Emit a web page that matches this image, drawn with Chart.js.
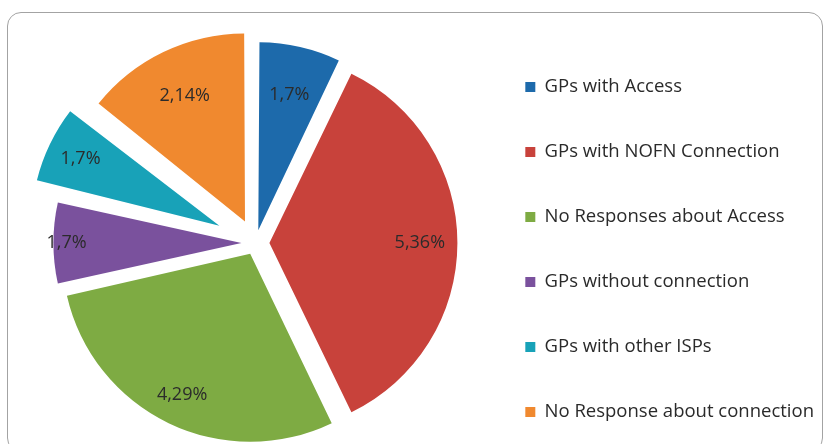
<!DOCTYPE html>
<html>
<head>
<meta charset="utf-8">
<script src="https://cdn.jsdelivr.net/npm/chart.js@4.4.1/dist/chart.umd.min.js"></script>
<style>
  html, body { margin: 0; padding: 0; background: #fff; }
  #wrap { position: relative; width: 826px; height: 444px; overflow: hidden; }
  #frame { position: absolute; left: 7px; top: 12px; width: 816px; height: 440px;
           border: 1.5px solid #a3a3a3; border-radius: 14px; box-sizing: border-box; }
  #wrap canvas { position: absolute; left: 0; top: 0; }
</style>
</head>
<body>
<div id="wrap">
  <div id="frame"></div>
  <!-- canvas a bit taller than the window so the legend fits in one column -->
  <canvas id="pie" width="826" height="476"></canvas>
</div>
<script>
// ---------- dados ----------
const categories = [
  'GPs with Access',
  'GPs with NOFN Connection',
  'No Responses about Access',
  'GPs without connection',
  'GPs with other ISPs',
  'No Response about connection',
];
const counts = [1, 5, 4, 1, 1, 2];

// ---------- estilo ----------
const colors = ['#1d6aab', '#c8423b', '#7eab43', '#7a519d', '#18a2b8', '#f0892f'];
const explode = [13, 14, 12, 14, 40, 24];              // px each slice is pulled out
const labelAt = [0.74, 0.80, 0.835, 0.93, 0.82, 0.74]; // label distance, fraction of radius
const RADIUS = 188;
const FONT = "'Open Sans', sans-serif";

// Chart.js moves an arc by offset/4 and also grows its radius a bit; undo the growth
const explodeFix = {
  id: 'explodeFix',
  afterUpdate(chart) {
    chart.getDatasetMeta(0).data.forEach((arc) => {
      const t = (arc.options.offset || 0) / 4;
      const fix = 1 - Math.sin(Math.min(Math.PI, arc.circumference));
      arc.outerRadius = RADIUS - t * fix;
    });
  },
};

const sliceLabels = {
  id: 'sliceLabels',
  afterDatasetsDraw(chart) {
    const { ctx } = chart;
    const total = counts.reduce((a, b) => a + b, 0);
    ctx.save();
    ctx.font = `18px ${FONT}`;
    ctx.fillStyle = '#2b2b2b';
    ctx.textAlign = 'center';
    ctx.textBaseline = 'middle';
    chart.getDatasetMeta(0).data.forEach((arc, i) => {
      const mid = (arc.startAngle + arc.endAngle) / 2;
      const r = (arc.options.offset || 0) / 4 + RADIUS * labelAt[i];
      const txt = counts[i] + ',' + Math.round(counts[i] / total * 100) + '%';
      ctx.fillText(txt, arc.x + Math.cos(mid) * r, arc.y + Math.sin(mid) * r);
    });
    ctx.restore();
  },
};

new Chart(document.getElementById('pie').getContext('2d'), {
  type: 'pie',
  data: {
    labels: categories,
    datasets: [{
      data: counts,
      backgroundColor: colors,
      borderWidth: 0,
      offset: explode.map((e) => e * 4),
      hoverOffset: 0,
      radius: RADIUS,
    }],
  },
  options: {
    responsive: false,
    animation: false,
    layout: { padding: { left: 32, top: 14, right: 2, bottom: 4 } },
    plugins: {
      tooltip: { enabled: false },
      legend: {
        position: 'right',
        // empty title only pushes the items down a little
        title: { display: true, text: '', font: { size: 5 }, padding: { top: 7, bottom: 0 } },
        labels: {
          boxWidth: 10, boxHeight: 10, padding: 46.5,
          color: '#2a2a2a',
          font: { family: FONT, size: 18.5 },
        },
      },
    },
  },
  plugins: [explodeFix, sliceLabels],
});
</script>
</body>
</html>
